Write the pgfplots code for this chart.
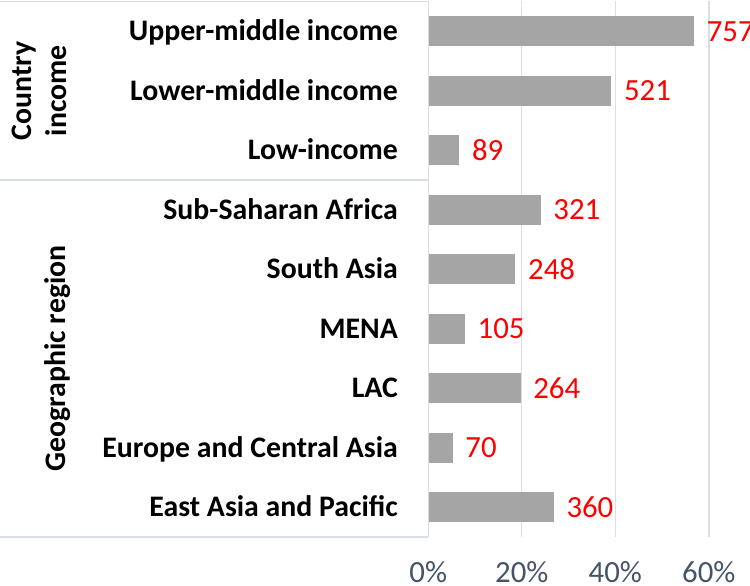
\documentclass[border=0pt]{standalone}
\usepackage{fontspec}
\setmainfont{Carlito}
\usepackage{pgfplots}
\usepackage{pgfplotstable}
\pgfplotsset{compat=1.18}

\definecolor{barc}{HTML}{A5A5A5}
\definecolor{gridc}{HTML}{D9DDE4}
\definecolor{tickc}{HTML}{44546A}
\definecolor{valc}{HTML}{FF0000}

% y = row (0 at top), share in %, n = count shown beside the bar
\pgfplotstableread{
y share n
0 56.7 757
1 39.0 521
2 6.5 89
3 23.9 321
4 18.5 248
5 7.7 105
6 19.6 264
7 5.1 70
8 26.7 360
}\datatab

\begin{document}
\begin{tikzpicture}
\begin{axis}[
  name=ax,
  scale only axis,
  width=160.9pt, height=267.7pt,
  xbar, bar width=14.5pt,
  xmin=0, xmax=68.8,
  ymin=-0.5, ymax=8.5, y dir=reverse,
  enlargelimits=false,
  clip=false,
  axis line style={draw=none},
  major tick length=0pt,
  xmajorgrids,
  grid style={gridc, line width=0.7pt},
  xtick={0,20,40,60},
  xticklabels={0\%,20\%,40\%,60\%},
  xticklabel style={text=tickc, font=\fontsize{15.4}{17}\selectfont, inner sep=0pt},
  xticklabel shift=12.3pt,
  ytick={0,...,8},
  yticklabels={Upper-middle income, Lower-middle income, Low-income,
    Sub-Saharan Africa, South Asia, MENA, LAC,
    Europe and Central Asia, East Asia and Pacific},
  yticklabel style={font=\bfseries\fontsize{14.9}{17}\selectfont,
    text height=9.6pt, text depth=0pt, inner sep=0pt, anchor=east},
  yticklabel shift=15pt,
  nodes near coords,
  point meta=explicit symbolic,
  nodes near coords style={text=valc, font=\fontsize{15.4}{17}\selectfont,
    anchor=west, inner sep=0pt, xshift=6.5pt},
]
\addplot[fill=barc, draw=barc] table[x=share, y=y, meta=n] {\datatab};

% category box lines
\draw[gridc, line width=0.7pt] (rel axis cs:0,0) -- (rel axis cs:0,1);
\draw[gridc, line width=0.7pt] ([xshift=-214.15pt]rel axis cs:0,1) -- (rel axis cs:0,1);
\draw[gridc, line width=0.7pt] ([xshift=-214.15pt]rel axis cs:0,0) -- (rel axis cs:0,0);
\draw[gridc, line width=0.7pt] ([xshift=-214.15pt]axis cs:0,2.5) -- (axis cs:0,2.5);

% group labels
\node[rotate=90, align=center, font=\bfseries\fontsize{14.9}{17.25}\selectfont]
  at ([xshift=-194.5pt]axis cs:0,1) {Country\\income};
\node[rotate=90, font=\bfseries\fontsize{14.9}{17}\selectfont]
  at ([xshift=-185.2pt]axis cs:0,5.5) {Geographic region};
\end{axis}
\pgfresetboundingbox
\path ([xshift=-214.15pt, yshift=-24.5pt]ax.south west) rectangle ([yshift=0.75pt]ax.north east);
\end{tikzpicture}
\end{document}
